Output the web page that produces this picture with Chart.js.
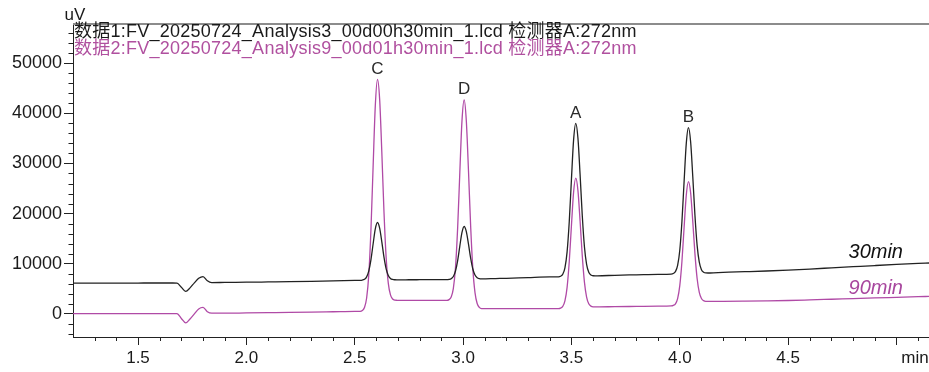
<!DOCTYPE html>
<html><head><meta charset="utf-8">
<script src="https://cdn.jsdelivr.net/npm/chart.js@4.4.0/dist/chart.umd.min.js"></script>
<style>html,body{margin:0;padding:0;background:#fff;}canvas{display:block;}</style>
</head><body>
<canvas id="c" width="929" height="372"></canvas>
<script>
// ---- data ----
const times = [
  1.20,1.30,1.40,1.50,1.60,1.66,1.68,1.70,1.72,1.74,1.76,1.78,1.80,1.82,1.84,1.90,2.00,2.10,2.20,2.30,2.40,2.50,
  2.525,2.535,2.545,2.555,2.565,2.575,2.585,2.595,2.605,2.615,2.625,2.635,2.645,2.655,2.665,2.675,2.685,2.695,2.705,
  2.75,2.80,2.85,2.90,
  2.925,2.935,2.945,2.955,2.965,2.975,2.985,2.995,3.005,3.015,3.025,3.035,3.045,3.055,3.065,3.075,3.085,3.095,3.105,
  3.15,3.20,3.30,3.40,
  3.44,3.45,3.46,3.47,3.48,3.49,3.50,3.51,3.52,3.53,3.54,3.55,3.56,3.57,3.58,3.59,3.60,3.61,3.62,
  3.70,3.80,3.90,
  3.96,3.97,3.98,3.99,4.00,4.01,4.02,4.03,4.04,4.05,4.06,4.07,4.08,4.09,4.10,4.11,4.12,4.13,4.14,
  4.20,4.30,4.40,4.50,4.60,4.70,4.80,4.90,5.00,5.10,5.15
];
const series30 = [
  6130,6140,6150,6160,6170,6170,6150,5300,4500,5200,6200,7100,7450,6600,6250,6280,6320,6370,6420,6500,6600,6680,
  6700,6750,6900,7380,8570,10840,13990,16970,18230,17110,14380,11320,8990,7670,7080,6870,6810,6800,6800,
  6810,6820,6830,6840,
  6840,6880,7020,7460,8560,10640,13530,16250,17430,16420,13900,11100,8960,7760,7220,7030,6990,6990,7000,
  7050,7100,7250,7380,
  7400,7520,7920,9200,12380,18430,26800,34700,38000,35060,27740,19610,13390,9880,8300,7760,7610,7600,7600,
  7700,7800,7900,
  7950,8070,8450,9670,12700,18470,26470,34000,37130,34330,27360,19610,13670,10330,8830,8310,8170,8160,8160,
  8290,8420,8560,8740,8950,9180,9410,9640,9860,10060,10150
];
const series90 = [
  60,60,60,60,70,70,50,-900,-1790,-1000,0,1000,1300,450,150,150,200,250,300,360,430,500,
  520,680,1270,3170,7880,16940,29550,41530,46770,42830,32270,20380,11250,6090,3790,2970,2750,2720,2700,
  2700,2690,2690,2690,
  2690,2850,3380,5050,9240,17210,28230,38540,42650,38460,28480,17450,9030,4250,2080,1320,1070,1060,1050,
  1050,1050,1050,1060,
  1070,1170,1510,2610,5300,10440,17570,24290,27060,24630,18470,11590,6340,3370,2020,1560,1420,1410,1400,
  1450,1500,1550,
  1600,1700,2010,3060,5630,10500,17290,23680,26390,24150,18400,11980,7060,4300,3070,2650,2520,2510,2510,
  2520,2560,2610,2680,2800,2930,3060,3190,3310,3430,3500
];
const xTickValues = [1.5,2.0,2.5,3.0,3.5,4.0,4.5,5.0];
const yTickValues = [0,10000,20000,30000,40000,50000];
const peakNames = ['C','D','A','B'];
const peakTimes = [2.605,3.005,3.52,4.04];
const traceNames = ['30min','90min'];
const legendLines = [
  '数据1:FV_20250724_Analysis3_00d00h30min_1.lcd 检测器A:272nm',
  '数据2:FV_20250724_Analysis9_00d01h30min_1.lcd 检测器A:272nm'
];
const yUnit = 'uV';
const xUnit = 'min';

// ---- styling ----
const FONT = '"Liberation Sans", Arial, "Noto Sans CJK SC", sans-serif';
const COL30 = '#222222';
const COL90 = '#b04aa6';

const pts = vals => times.map((t,i)=>({x:t, y:vals[i]}));

const overlay = {
  id:'overlay',
  afterDraw(chart){
    const {ctx, chartArea:a, scales:{x,y}} = chart;
    ctx.save();
    // top frame line
    ctx.strokeStyle='#8c8c8c'; ctx.lineWidth=2;
    ctx.beginPath(); ctx.moveTo(a.left, a.top); ctx.lineTo(a.right, a.top); ctx.stroke();
    // minor ticks
    ctx.strokeStyle='#222'; ctx.lineWidth=1;
    ctx.beginPath();
    for (let i=13;i<=51;i++){ if(i%5===0) continue; const px=Math.round(x.getPixelForValue(i/10))+0.5; ctx.moveTo(px,a.bottom); ctx.lineTo(px,a.bottom+4);}
    for (let v=-4000; v<=56000; v+=2000){ if(v%10000===0) continue; const py=Math.round(y.getPixelForValue(v))+0.5; ctx.moveTo(a.left-4.5,py); ctx.lineTo(a.left,py);}
    ctx.stroke();
    // legend lines
    ctx.textAlign='left'; ctx.textBaseline='middle';
    ctx.font='18px '+FONT;
    try { ctx.letterSpacing='0.25px'; } catch(e) {}
    ctx.fillStyle='#1a1a1a'; ctx.fillText(legendLines[0], a.left+1, a.top+8);
    ctx.fillStyle='#b0509f'; ctx.fillText(legendLines[1], a.left+1, a.top+25.5);
    try { ctx.letterSpacing='0px'; } catch(e) {}
    // units
    ctx.fillStyle='#1a1a1a'; ctx.textAlign='center';
    ctx.font='17px '+FONT;
    ctx.fillText(yUnit, a.left+2, a.top-9);
    ctx.fillText(xUnit, a.right-14, a.bottom+21);
    // peak labels
    ctx.font='17px '+FONT; ctx.fillStyle='#2a2a2a';
    peakNames.forEach((n,i)=>{
      const idx = times.indexOf(peakTimes[i]);
      const v = Math.max(series30[idx], series90[idx]);
      ctx.fillText(n, x.getPixelForValue(peakTimes[i]), y.getPixelForValue(v)-10.5);
    });
    // trace labels
    ctx.textAlign='right';
    ctx.font='italic 20px '+FONT;
    ctx.fillStyle='#111'; ctx.fillText(traceNames[0], x.getPixelForValue(5.03), y.getPixelForValue(12260));
    ctx.fillStyle='#a8479e'; ctx.fillText(traceNames[1], x.getPixelForValue(5.03), y.getPixelForValue(5170));
    ctx.restore();
  }
};

new Chart(document.getElementById('c'), {
  type:'line',
  data:{ datasets:[
    {label:'30min', data:pts(series30), borderColor:COL30, borderWidth:1.3, pointRadius:0, cubicInterpolationMode:'monotone', fill:false},
    {label:'90min', data:pts(series90), borderColor:COL90, borderWidth:1.3, pointRadius:0, cubicInterpolationMode:'monotone', fill:false}
  ]},
  options:{
    responsive:false, animation:false, devicePixelRatio:1,
    layout:{padding:{top:24,right:0,left:0,bottom:0}},
    plugins:{legend:{display:false}, tooltip:{enabled:false}},
    scales:{
      x:{type:'linear', min:1.2, max:5.15,
        afterBuildTicks:s=>{s.ticks=xTickValues.map(v=>({value:v}));},
        afterFit:s=>{s.height=35;},
        ticks:{autoSkip:false, maxRotation:0, padding:3, color:'#1a1a1a', font:{family:FONT,size:17},
          callback:v=> v>=5 ? '' : Number(v).toFixed(1)},
        grid:{drawOnChartArea:false, drawTicks:true, tickLength:8, tickColor:'#222'},
        border:{display:true, color:'#222', width:1}
      },
      y:{type:'linear', min:-4600, max:57800,
        afterBuildTicks:s=>{s.ticks=yTickValues.map(v=>({value:v}));},
        afterFit:s=>{s.width=73;},
        ticks:{padding:2, color:'#1a1a1a', font:{family:FONT,size:18}, callback:v=>String(v)},
        grid:{drawOnChartArea:false, drawTicks:true, tickLength:9, tickColor:'#222'},
        border:{display:true, color:'#222', width:1}
      }
    }
  },
  plugins:[overlay]
});
</script></body></html>
